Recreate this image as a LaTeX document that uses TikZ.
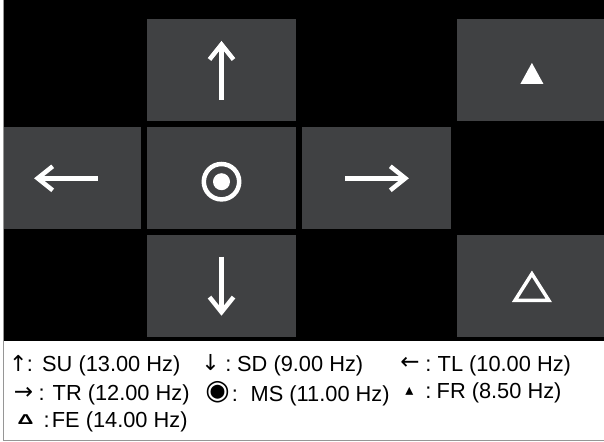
\documentclass[tikz,border=0pt]{standalone}
\usepackage{fontspec}
\setmainfont{Liberation Sans}
\newfontfamily\symfont{DejaVu Sans}
\usetikzlibrary{positioning,arrows.meta}
\definecolor{tilegrey}{RGB}{64,65,67}
\definecolor{framegrey}{RGB}{150,150,150}
\tikzstyle{tile} = [fill=tilegrey, rectangle, inner sep=0pt,
minimum width=149pt, minimum height=102pt]
\tikzstyle{symline} = [draw=white, line width=4.5pt]
\tikzstyle{symarrow} = [symline, -{Straight Barb[length=15pt,width=24pt]}]
\tikzstyle{keytext} = [inner sep=0pt, anchor=base west, font=\fontsize{21.8}{25}\selectfont]
\tikzstyle{keycolon} = [inner sep=0pt, anchor=base, font=\fontsize{21.8}{25}\selectfont]
\tikzstyle{keysym} = [inner sep=0pt, font=\fontsize{22}{25}\selectfont\symfont]

\begin{document}
\begin{tikzpicture}[x=1pt, y=-1pt, node distance=6pt]
	\useasboundingbox (0,0) rectangle (604,441);
	\fill [black] (3,0) rectangle (604,341);
	\begin{scope}
	\clip (3,0) rectangle (604,341);
	\node [tile] (tileMS) at (221.5,178.3) {};
	\node [tile, above=5.5pt of tileMS] (tileSU) {};
	\node [tile, below=5.5pt of tileMS] (tileSD) {};
	\node [tile, left=6pt of tileMS] (tileTL) {};
	\node [tile, right=6pt of tileMS] (tileTR) {};
	\node [tile, right=161pt of tileSU] (tileFR) {};
	\node [tile, right=161pt of tileSD] (tileFE) {};
	\end{scope}
	
	% symbols on the tiles
	\draw [symarrow] ([yshift=-29.5pt]tileSU.center) -- ([yshift=29.5pt]tileSU.center);
	\draw [symarrow] ([yshift=29.5pt]tileSD.center) -- ([yshift=-29.5pt]tileSD.center);
	\draw [symarrow] ([xshift=32pt]tileTL.center) -- ([xshift=-32pt]tileTL.center);
	\draw [symarrow] ([xshift=-32pt]tileTR.center) -- ([xshift=32pt]tileTR.center);
	\draw [symline] ([yshift=-3.4pt]tileMS.center) circle [radius=17.7pt];
	\fill [white] ([yshift=-3.4pt]tileMS.center) circle [radius=8.5pt];
	\fill [white] ([shift={(-11.5,13.5)}]tileFR.center) -- ([shift={(11.5,13.5)}]tileFR.center)
		-- ([shift={(0,-7.5)}]tileFR.center) -- cycle;
	\draw [symline, line width=3.5pt, line join=miter] ([shift={(-16.9,14.2)}]tileFE.center)
		-- ([shift={(16.9,14.2)}]tileFE.center) -- ([shift={(0,-12.4)}]tileFE.center) -- cycle;
	
	% key
	\fill [white] (3,341) rectangle (604,440);
	\draw [framegrey, line width=1pt] (3,0) -- (3,440) -- (604,440);
	
	\node [keysym] (symSU) at (18.4,363.5) {↑};
	\node [keycolon] (colSU) at (30,371.5) {:};
	\node [keytext] (txtSU) at (42,371.5) {SU (13.00 Hz)};
	\node [keysym] (symSD) at (210.5,362.5) {↓};
	\node [keycolon] (colSD) at (228.3,371.5) {:};
	\node [keytext] (txtSD) at (237,371.5) {SD (9.00 Hz)};
	\node [keysym, font=\fontsize{23}{25}\selectfont\symfont] (symTL) at (410,363.5) {←};
	\node [keycolon] (colTL) at (428.3,371.5) {:};
	\node [keytext] (txtTL) at (437.5,371.5) {TL (10.00 Hz)};
	
	\node [keysym, font=\fontsize{23}{25}\selectfont\symfont] (symTR) at (23.5,393.5) {→};
	\node [keycolon] (colTR) at (41.7,400) {:};
	\node [keytext] (txtTR) at (52.5,400) {TR (12.00 Hz)};
	\node [keysym, font=\fontsize{28}{30}\selectfont\symfont] (symMS) at (217.5,392.5) {◉};
	\node [keycolon] (colMS) at (235,401.5) {:};
	\node [keytext] (txtMS) at (250.5,401.5) {MS (11.00 Hz)};
	\node [keysym, font=\fontsize{16}{20}\selectfont\symfont] (symFR) at (409.5,391.7) {▴};
	\node [keycolon] (colFR) at (428.3,398.5) {:};
	\node [keytext] (txtFR) at (436.5,398.5) {FR (8.50 Hz)};
	
	\node [keysym, font=\fontsize{21}{22}\selectfont\bfseries, xscale=1.05, yscale=0.68] (symFE) at (25.5,420) {Δ};
	\node [keycolon] (colFE) at (46.7,427.5) {:};
	\node [keytext] (txtFE) at (51.7,427.5) {FE (14.00 Hz)};
\end{tikzpicture}
\end{document}
